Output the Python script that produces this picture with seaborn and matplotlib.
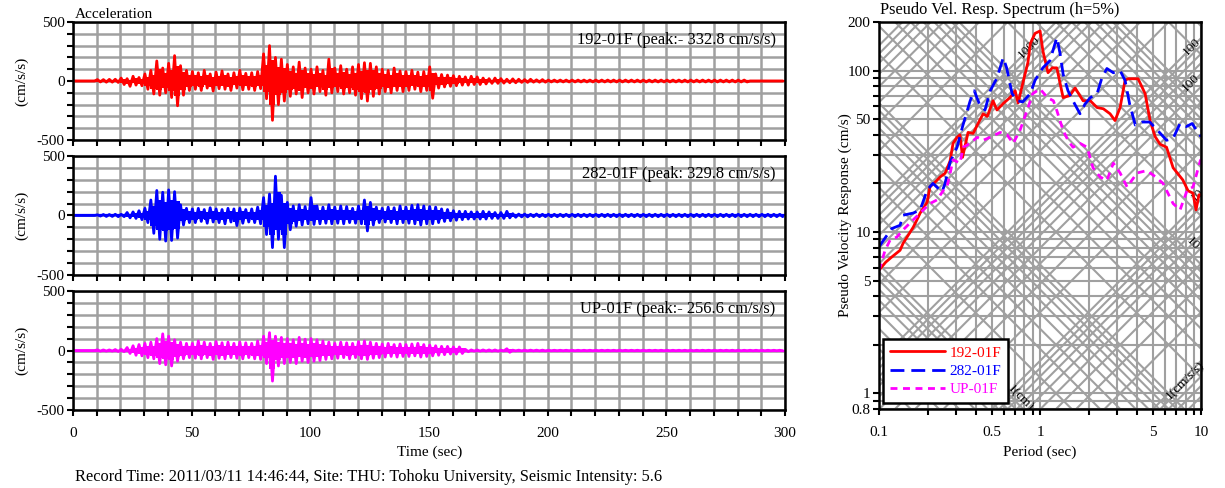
import numpy as np
import pandas as pd
import matplotlib
matplotlib.use("Agg")
import matplotlib.pyplot as plt
import seaborn as sns
from matplotlib.lines import Line2D
from matplotlib.ticker import FixedLocator, FixedFormatter, NullFormatter

sns.set_style("ticks")
plt.rcParams['font.family'] = ['Liberation Serif', 'DejaVu Serif']
plt.rcParams['axes.linewidth'] = 1.5
plt.rcParams['axes.unicode_minus'] = False
for k in ['text.color', 'axes.labelcolor', 'xtick.color', 'ytick.color', 'axes.edgecolor']:
    plt.rcParams[k] = 'black'

# ---------------- data: acceleration envelopes (2.5 s bins, cm/s/s) ----------------
bin_width = 2.5
red_up = [0, 0, 0, 0, 12, 12, 14, 15, 25, 20,
          40, 30, 60, 90, 170, 110, 150, 215, 130, 90,
          80, 70, 90, 60, 75, 85, 60, 70, 90, 65,
          70, 80, 230, 300, 200, 185, 140, 120, 160, 110,
          100, 120, 90, 185, 110, 130, 100, 120, 140, 155,
          150, 120, 100, 90, 110, 85, 80, 90, 75, 80,
          120, 60, 55, 50, 45, 40, 35, 40, 35, 25,
          20, 25, 20, 15, 18, 15, 12, 15, 10, 12] + [8] * 34 + [0] * 6
red_lo = [0, 0, 0, 0, 8, 10, 10, 12, 30, 45,
          35, 40, 70, 110, 120, 100, 140, 210, 120, 80,
          70, 80, 60, 85, 65, 70, 80, 60, 75, 70,
          80, 65, 150, 333, 200, 170, 130, 110, 140, 100,
          110, 90, 120, 100, 90, 110, 100, 120, 150, 170,
          130, 110, 90, 100, 80, 90, 80, 70, 90, 80,
          146, 60, 50, 45, 40, 35, 35, 30, 30, 25,
          20, 20, 18, 15, 15, 12, 12, 10, 10, 10] + [8] * 34 + [0] * 6
blue_up = [0, 0, 0, 0, 5, 8, 8, 10, 10, 25,
           30, 40, 60, 130, 210, 195, 215, 200, 90, 60,
           55, 60, 50, 65, 55, 50, 60, 55, 60, 50,
           55, 70, 150, 180, 330, 170, 110, 80, 90, 75,
           150, 80, 70, 90, 70, 80, 75, 60, 80, 130,
           110, 70, 60, 70, 65, 80, 70, 85, 90, 80,
           75, 70, 55, 50, 40, 35, 35, 30, 30, 35,
           30, 25, 25, 35, 15, 12, 12, 10, 12, 10] + [10] * 40
blue_lo = [0, 0, 0, 0, 5, 8, 8, 10, 10, 20,
           25, 35, 60, 150, 200, 215, 210, 190, 80, 60,
           60, 50, 65, 55, 60, 70, 55, 85, 65, 55,
           60, 70, 160, 270, 200, 270, 120, 90, 80, 70,
           75, 70, 65, 70, 65, 70, 60, 65, 70, 130,
           80, 60, 55, 60, 70, 60, 65, 70, 80, 70,
           70, 60, 50, 45, 40, 35, 30, 30, 30, 30,
           25, 25, 25, 20, 15, 12, 12, 10, 10, 10] + [10] * 40
mag_up = [0, 0, 0, 0, 5, 5, 5, 8, 10, 25,
          40, 50, 60, 70, 100, 140, 120, 90, 70, 60,
          60, 80, 70, 60, 75, 65, 70, 60, 70, 65,
          60, 80, 120, 150, 120, 110, 100, 90, 110, 95,
          100, 90, 80, 70, 60, 70, 65, 60, 75, 80,
          70, 60, 55, 60, 50, 55, 50, 55, 60, 50,
          45, 40, 35, 35, 30, 30, 10, 5, 5, 5,
          5, 5, 3, 15, 3, 3, 3, 3, 3, 3] + [2] * 40
mag_lo = [0, 0, 0, 0, 5, 5, 5, 8, 10, 25,
          40, 45, 60, 70, 110, 120, 130, 90, 70, 60,
          65, 70, 60, 75, 65, 70, 60, 65, 70, 60,
          70, 75, 110, 257, 130, 110, 100, 110, 90, 100,
          90, 85, 75, 70, 65, 60, 70, 60, 70, 75,
          65, 60, 55, 50, 55, 50, 50, 45, 55, 50,
          45, 40, 35, 30, 30, 25, 10, 5, 5, 5,
          5, 5, 3, 15, 3, 3, 3, 3, 3, 3] + [2] * 40

trace_names = ["192-01F", "282-01F", "UP-01F"]
trace_notes = ["192-01F (peak:- 332.8 cm/s/s)",
               "282-01F (peak: 329.8 cm/s/s)",
               "UP-01F (peak:- 256.6 cm/s/s)"]
trace_colors = ["#ff0000", "#0000ff", "#ff00ff"]

# ---------------- data: pseudo velocity response spectra ----------------
red_T = [0.100, 0.110, 0.120, 0.135, 0.141, 0.163, 0.172, 0.180, 0.199, 0.207,
         0.229, 0.239, 0.257, 0.276, 0.288, 0.305, 0.318, 0.330, 0.357, 0.384,
         0.412, 0.443, 0.470, 0.510, 0.540, 0.590, 0.650, 0.700, 0.730, 0.780,
         0.840, 0.870, 0.930, 1.000, 1.040, 1.120, 1.190, 1.270, 1.390, 1.530,
         1.650, 1.850, 2.050, 2.260, 2.470, 2.720, 2.920, 3.140, 3.370, 3.520,
         4.060, 4.490, 4.820, 5.180, 5.560, 6.100, 6.700, 7.700, 8.300, 8.900,
         9.300, 9.700, 10.00]
red_V = [5.8, 6.5, 7.0, 7.7, 8.5, 10.7, 11.9, 13.1, 15.3, 19.0,
         20.9, 21.9, 23.1, 27.5, 35.4, 38.6, 40.0, 29.0, 41.4, 40.8,
         47.0, 54.0, 52.0, 65.0, 57.0, 62.5, 68.0, 75.0, 63.0, 83.0,
         112, 147, 170, 176, 133, 97, 104, 104, 68, 70,
         78, 65, 65, 59, 58, 54, 49, 59, 87, 89,
         89, 72, 49, 39, 35, 33.5, 25, 21, 18, 17.4,
         13.7, 17, 17]
blue_T = [0.100, 0.105, 0.110, 0.120, 0.135, 0.141, 0.163, 0.180, 0.199, 0.216,
          0.246, 0.257, 0.276, 0.305, 0.330, 0.368, 0.390, 0.420, 0.455, 0.490,
          0.540, 0.590, 0.620, 0.670, 0.720, 0.780, 0.870, 0.930, 1.040, 1.150,
          1.270, 1.330, 1.390, 1.490, 1.600, 1.770, 1.900, 2.050, 2.260, 2.420,
          2.600, 2.850, 3.140, 3.370, 3.600, 3.900, 4.300, 4.800, 5.560, 6.100,
          6.700, 7.400, 8.100, 8.800, 9.600, 10.00]
blue_V = [8.1, 8.7, 9.3, 10.5, 11.0, 12.7, 13.1, 13.7, 18.2, 20.0,
          17.7, 20.0, 27.0, 33.5, 45.0, 65.0, 75.0, 62.0, 57.0, 75.0,
          90, 120, 104, 72, 65, 64, 72, 87, 104, 115,
          160, 128, 95, 75, 65, 54, 62, 68, 72, 90,
          103, 97, 100, 87, 62, 46, 48, 48, 41, 37,
          38, 47, 45, 47, 41, 39]
mag_T = [0.100, 0.109, 0.117, 0.129, 0.141, 0.163, 0.180, 0.207, 0.229, 0.250,
         0.264, 0.276, 0.288, 0.318, 0.333, 0.368, 0.406, 0.443, 0.489, 0.565,
         0.624, 0.680, 0.750, 0.830, 0.900, 1.000, 1.110, 1.210, 1.270, 1.390,
         1.490, 1.600, 1.770, 1.960, 2.130, 2.360, 2.600, 2.850, 3.140, 3.470,
         4.000, 4.600, 5.200, 5.800, 6.700, 7.400, 8.200, 8.900, 9.900, 10.00]
mag_V = [5.8, 7.7, 8.9, 9.3, 10.3, 11.9, 13.1, 15.0, 15.8, 18.0,
         19.0, 23.0, 28.0, 26.7, 33.5, 35.4, 38.6, 37.0, 38.6, 41.4,
         40.0, 35.4, 42.6, 56.6, 72.0, 77.0, 68.0, 65.0, 56.6, 42.6,
         37.0, 33.5, 35.4, 33.5, 25.0, 21.9, 20.9, 26.7, 23.2, 19.0,
         23.2, 24.0, 22.0, 20.0, 15.0, 13.7, 18.2, 19.0, 27.8, 28.0]

GRID = "#a0a0a0"
FS = 11
FS_NOTE = 11.8

fig = plt.figure(figsize=(12.25, 4.88), dpi=100)

# ---------------- left: acceleration traces ----------------
boxes = [(0.0596, 0.7131, 0.5812, 0.2418),
         (0.0596, 0.4365, 0.5812, 0.2439),
         (0.0596, 0.1598, 0.5812, 0.2439)]
envs = [(red_up, red_lo), (blue_up, blue_lo), (mag_up, mag_lo)]
for i, (box, (up, lo), col, note) in enumerate(zip(boxes, envs, trace_colors, trace_notes)):
    ax = fig.add_axes(box)
    up = np.asarray(up, float)
    lo = np.asarray(lo, float)
    n = len(up)
    # oscillating trace: each bin swings from its upper peak to its lower peak
    tz = np.empty(2 * n)
    yz = np.empty(2 * n)
    tz[0::2] = np.arange(n) * bin_width + 0.3
    tz[1::2] = np.arange(n) * bin_width + 1.55
    yz[0::2] = up
    yz[1::2] = -lo
    ax.fill_between(np.append(np.arange(n) * bin_width, n * bin_width),
                    -np.append(lo, lo[-1]) * 0.6, np.append(up, up[-1]) * 0.6,
                    step="post", color=col, linewidth=0, zorder=3)
    sns.lineplot(x=tz, y=yz, ax=ax, color=col, linewidth=2.0, sort=False,
                 estimator=None, zorder=3)
    ax.axhline(0, color=col, lw=1.6, zorder=3)
    ax.set_xlim(0, 300)
    ax.set_ylim(-500, 500)
    ax.xaxis.set_major_locator(FixedLocator(np.arange(0, 301, 50)))
    ax.xaxis.set_minor_locator(FixedLocator(np.arange(0, 301, 10)))
    ax.yaxis.set_major_locator(FixedLocator([-500, 0, 500]))
    ax.yaxis.set_minor_locator(FixedLocator(np.arange(-500, 501, 100)))
    ax.grid(which="both", color=GRID, linewidth=1.8, zorder=0)
    ax.set_axisbelow(True)
    ax.tick_params(which="both", direction="out", length=4, width=1.5,
                   labelsize=FS, pad=2)
    ax.tick_params(axis="x", which="both", pad=8)
    if i < 2:
        ax.set_xticklabels([])
    for s in ax.spines.values():
        s.set_linewidth(1.8)
        s.set_zorder(5)
    ax.set_xlabel("")
    ax.set_ylabel("(cm/s/s)", fontsize=FS)
    ax.yaxis.set_label_coords(-0.062, 0.5)
    ax.text(0.987, 0.85, note, transform=ax.transAxes, ha="right", va="center",
            fontsize=FS_NOTE, zorder=6)
    if i == 0:
        ax.text(0.003, 1.01, "Acceleration", transform=ax.transAxes, ha="left",
                va="bottom", fontsize=FS)

fig.text(0.351, 0.074, "Time (sec)", ha="center", va="center", fontsize=FS)
fig.text(0.0612, 0.0225,
         "Record Time: 2011/03/11 14:46:44, Site: THU: Tohoku University, Seismic Intensity: 5.6",
         ha="left", va="center", fontsize=FS_NOTE)

# ---------------- right: tripartite pseudo velocity spectrum ----------------
axr = fig.add_axes([0.7176, 0.1619, 0.2629, 0.7930])
axr.set_xscale("log")
axr.set_yscale("log")
axr.set_xlim(0.1, 10)
axr.set_ylim(0.8, 200)

gkw = dict(color=GRID, linewidth=1.5, zorder=0.5)
vel_grid = [0.8, 0.9] + [k * 10.0 ** e for e in (0, 1, 2) for k in range(1, 10)]
for v in vel_grid:
    if v <= 200:
        axr.axhline(v, **gkw)
per_grid = [k * 10.0 ** e for e in (-1, 0) for k in range(1, 10)] + [10.0]
for p in per_grid:
    axr.axvline(p, **gkw)
T_line = np.array([0.1, 10.0])
for D in [k * 10.0 ** e for e in range(-2, 3) for k in range(1, 10)]:
    axr.plot(T_line, 2 * np.pi * D / T_line, **gkw)
for A in [k * 10.0 ** e for e in range(-1, 4) for k in range(1, 10)]:
    axr.plot(T_line, A * T_line / (2 * np.pi), **gkw)

spec = [(red_T, red_V, trace_colors[0], "-"),
        (blue_T, blue_V, trace_colors[1], (0, (5, 2.5))),
        (mag_T, mag_V, trace_colors[2], (0, (2.5, 2)))]
for name, (T, V, col, ls) in zip(trace_names, spec):
    df = pd.DataFrame({"Period": T, "PSV": V})
    sns.lineplot(data=df, x="Period", y="PSV", ax=axr, color=col, linewidth=2,
                 linestyle=ls, sort=False, estimator=None, zorder=3)

# diagonal labels
lab_kw = dict(fontsize=9.5, ha="center", va="center", zorder=2)
axr.text(0.85, 140, "1000", rotation=45, **lab_kw)
axr.text(8.7, 140, "100", rotation=45, **lab_kw)
axr.text(8.6, 84, "100", rotation=45, **lab_kw)
axr.text(9.5, 17, "10", rotation=45, **lab_kw)
axr.text(8.8, 8.5, "10", rotation=-45, **lab_kw)
axr.text(0.75, 0.93, "1(cm)", rotation=-45, **lab_kw)
axr.text(8.0, 1.2, "1(cm/s/s)", rotation=45, **lab_kw)

axr.xaxis.set_major_locator(FixedLocator([0.1, 0.5, 1, 5, 10]))
axr.xaxis.set_major_formatter(FixedFormatter(["0.1", "0.5", "1", "5", "10"]))
axr.xaxis.set_minor_locator(FixedLocator([p for p in per_grid if p not in (0.1, 0.5, 1, 5, 10)]))
axr.xaxis.set_minor_formatter(NullFormatter())
axr.yaxis.set_major_locator(FixedLocator([0.8, 1, 5, 10, 50, 100, 200]))
axr.yaxis.set_major_formatter(FixedFormatter(["0.8", "1", "5", "10", "50", "100", "200"]))
axr.yaxis.set_minor_locator(FixedLocator([v for v in vel_grid if v <= 200 and v not in (0.8, 1, 5, 10, 50, 100, 200)]))
axr.yaxis.set_minor_formatter(NullFormatter())
axr.tick_params(which="both", direction="out", length=4, width=1.5, labelsize=FS, pad=2)
axr.tick_params(axis="x", which="both", pad=8)
for s in axr.spines.values():
    s.set_linewidth(1.8)
    s.set_zorder(5)
axr.set_xlabel("")
axr.set_ylabel("Pseudo Velocity Response (cm/s)", fontsize=FS)
axr.yaxis.set_label_coords(-0.085, 0.5)
axr.text(0.003, 1.01, "Pseudo Vel. Resp. Spectrum (h=5%)", transform=axr.transAxes,
         ha="left", va="bottom", fontsize=FS_NOTE)
fig.text(0.849, 0.074, "Period (sec)", ha="center", va="center", fontsize=FS)

handles = [Line2D([], [], color=c, lw=2, linestyle=ls) for (_, _, c, ls) in spec]
leg = axr.legend(handles, trace_names, loc="lower left", bbox_to_anchor=(0.012, 0.015),
                 borderaxespad=0, frameon=True, fancybox=False, fontsize=FS,
                 handlelength=3.6, handletextpad=0.3, borderpad=0.45, labelspacing=0.3)
leg.get_frame().set_edgecolor("black")
leg.get_frame().set_linewidth(1.8)
leg.get_frame().set_facecolor("white")
leg.get_frame().set_alpha(1)
leg.set_zorder(10)
for txt, c in zip(leg.get_texts(), trace_colors):
    txt.set_color(c)

fig.savefig("out.png", dpi=100)
